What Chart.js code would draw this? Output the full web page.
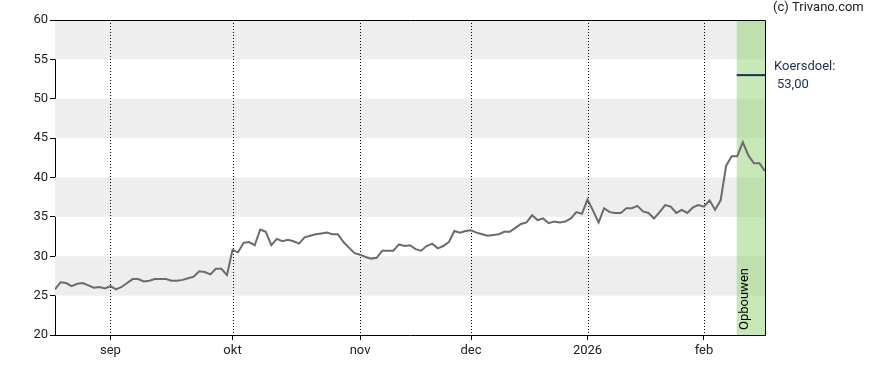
<!DOCTYPE html>
<html>
<head>
<meta charset="utf-8">
<script src="https://cdn.jsdelivr.net/npm/chart.js@4.4.1/dist/chart.umd.min.js"></script>
<style>
  html, body { margin: 0; padding: 0; background: #fff; }
  #wrap { width: 888px; height: 370px; }
</style>
</head>
<body>
<div id="wrap"><canvas id="koersChart" width="888" height="370"></canvas></div>
<script>
// Koersen per handelsdag (index 0 = half augustus)
const prices = [
  25.8, 26.7, 26.6, 26.2, 26.5, 26.6, 26.3, 26.0, 26.1, 25.9,
  26.2, 25.8, 26.1, 26.6, 27.1, 27.1, 26.8, 26.9, 27.1, 27.1,
  27.1, 26.9, 26.9, 27.0, 27.2, 27.4, 28.1, 28.0, 27.7, 28.4,
  28.4, 27.6, 30.8, 30.5, 31.7, 31.8, 31.4, 33.4, 33.1, 31.4,
  32.2, 31.9, 32.1, 31.9, 31.6, 32.4, 32.6, 32.8, 32.9, 33.0,
  32.8, 32.8, 31.8, 31.1, 30.4, 30.2, 29.9, 29.7, 29.8, 30.7,
  30.7, 30.7, 31.5, 31.3, 31.4, 30.9, 30.7, 31.3, 31.6, 31.0,
  31.3, 31.8, 33.2, 33.0, 33.2, 33.3, 33.0, 32.8, 32.6, 32.7,
  32.8, 33.1, 33.1, 33.6, 34.1, 34.3, 35.2, 34.6, 34.8, 34.2,
  34.4, 34.3, 34.4, 34.8, 35.6, 35.4, 37.2, 35.8, 34.3, 36.1,
  35.6, 35.5, 35.5, 36.1, 36.1, 36.4, 35.7, 35.5, 34.8, 35.6,
  36.5, 36.3, 35.5, 35.9, 35.5, 36.2, 36.5, 36.3, 37.1, 35.9,
  37.1, 41.5, 42.7, 42.7, 44.5, 42.8, 41.8, 41.8, 40.8
];

// X-as: eerste handelsdag van elke maand
const monthTicks = [10, 32, 55, 75, 96, 117];
const monthLabels = ["sep", "okt", "nov", "dec", "2026", "feb"];

// Grijze banden op de Y-as
const bands = [[25, 30], [35, 40], [45, 50], [55, 60]];

// Advieszone en koersdoel
const zoneStart = 123;
const zoneLabel = "Opbouwen";
const targetPrice = 53;
const targetTitle = "Koersdoel:";
const targetText = "53,00";
const copyright = "(c) Trivano.com";

const FONT = "Roboto, 'Liberation Sans', Arial, sans-serif";

// Plugin voor banden, stippellijnen, zone en teksten
const decorPlugin = {
  id: "decor",
  beforeDatasetsDraw(chart) {
    const { ctx, chartArea: a, scales: { x, y } } = chart;
    ctx.save();
    // banden
    ctx.fillStyle = "#eeeeee";
    bands.forEach(([lo, hi]) => {
      const top = y.getPixelForValue(hi);
      const bot = y.getPixelForValue(lo);
      ctx.fillRect(a.left, top, a.right - a.left, bot - top);
    });
    // stippellijnen per maand
    ctx.strokeStyle = "#000";
    ctx.lineWidth = 1;
    ctx.setLineDash([1, 2]);
    monthTicks.forEach(v => {
      const px = Math.round(x.getPixelForValue(v)) + 0.5;
      ctx.beginPath();
      ctx.moveTo(px, a.top);
      ctx.lineTo(px, a.bottom);
      ctx.stroke();
    });
    ctx.setLineDash([]);
    // groene zone
    const zx = x.getPixelForValue(zoneStart - 0.1);
    ctx.fillStyle = "rgba(140, 210, 105, 0.48)";
    ctx.fillRect(zx, a.top, a.right - zx, a.bottom - a.top);
    // label in zone
    ctx.translate(zx + 8, a.bottom - 5);
    ctx.rotate(-Math.PI / 2);
    ctx.fillStyle = "#000";
    ctx.font = "13px " + FONT;
    ctx.textAlign = "left";
    ctx.textBaseline = "middle";
    ctx.fillText(zoneLabel, 0, 0);
    ctx.restore();
  },
  afterDatasetsDraw(chart) {
    const { ctx, chartArea: a, scales: { x, y } } = chart;
    ctx.save();
    // koersdoel lijn
    const zx = x.getPixelForValue(zoneStart - 0.1);
    const ty = y.getPixelForValue(targetPrice);
    ctx.strokeStyle = "#1c2f4f";
    ctx.lineWidth = 2;
    ctx.beginPath();
    ctx.moveTo(zx, ty);
    ctx.lineTo(a.right, ty);
    ctx.stroke();
    // kader boven en rechts
    ctx.strokeStyle = "#000";
    ctx.lineWidth = 1;
    ctx.beginPath();
    ctx.moveTo(a.left, Math.round(a.top) + 0.5);
    ctx.lineTo(Math.round(a.right) + 0.5, Math.round(a.top) + 0.5);
    ctx.lineTo(Math.round(a.right) + 0.5, a.bottom);
    ctx.stroke();
    // teksten rechts
    ctx.font = "13px " + FONT;
    ctx.textAlign = "left";
    ctx.textBaseline = "middle";
    ctx.fillStyle = "#222";
    ctx.fillText(copyright, a.right + 8, 8);
    ctx.fillStyle = "#1c2f4f";
    ctx.fillText(targetTitle, a.right + 9, ty - 8);
    ctx.fillText(targetText, a.right + 12, ty + 10);
    ctx.restore();
  }
};

const ctx = document.getElementById("koersChart").getContext("2d");
const koersChart = new Chart(ctx, {
  type: "line",
  data: {
    datasets: [{
      data: prices.map((v, i) => ({ x: i, y: v })),
      borderColor: "#6b6b6b",
      borderWidth: 2,
      pointRadius: 0,
      tension: 0,
      fill: false
    }]
  },
  options: {
    responsive: false,
    animation: false,
    layout: { padding: { top: 20, right: 123, left: 0, bottom: 0 } },
    plugins: { legend: { display: false }, tooltip: { enabled: false } },
    scales: {
      x: {
        type: "linear",
        min: 0,
        max: prices.length - 1,
        afterBuildTicks: (scale) => { scale.ticks = monthTicks.map(v => ({ value: v })); },
        afterFit: (scale) => { scale.height = 35; },
        ticks: {
          autoSkip: false,
          maxRotation: 0,
          padding: 3,
          color: "#222",
          font: { family: FONT, size: 13 },
          callback: (v) => monthLabels[monthTicks.indexOf(v)]
        },
        grid: { drawOnChartArea: false, tickLength: 5, color: "#000" },
        border: { color: "#000" }
      },
      y: {
        min: 20,
        max: 60,
        afterFit: (scale) => { scale.width = 55; },
        ticks: {
          stepSize: 5,
          padding: 2,
          color: "#222",
          font: { family: FONT, size: 13 }
        },
        grid: { drawOnChartArea: false, tickLength: 5, color: "#000" },
        border: { color: "#000" }
      }
    }
  },
  plugins: [decorPlugin]
});
</script>
</body>
</html>
